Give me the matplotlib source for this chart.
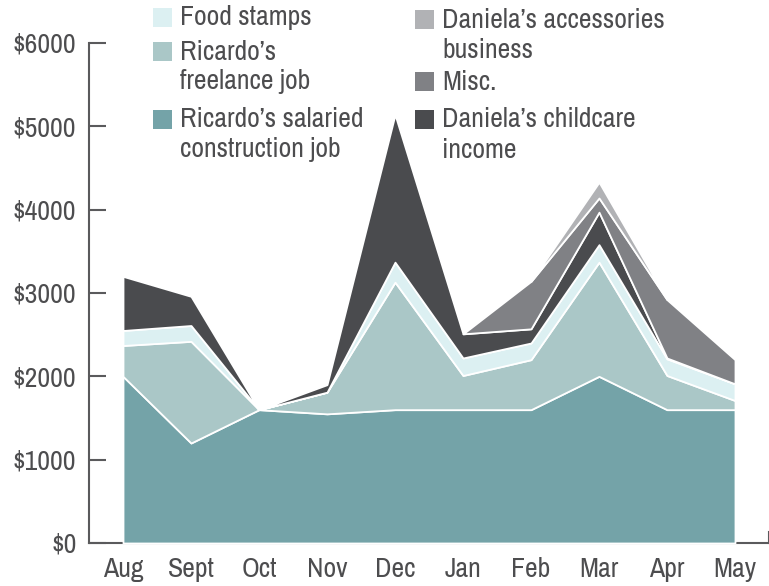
import numpy as np
import matplotlib.pyplot as plt
from matplotlib.patches import Rectangle

plt.rcParams['font.family'] = ['Archivo Narrow', 'DejaVu Sans']

months = ['Aug', 'Sept', 'Oct', 'Nov', 'Dec', 'Jan', 'Feb', 'Mar', 'Apr', 'May']
salaried = [2000, 1200, 1600, 1550, 1600, 1600, 1600, 2000, 1600, 1600]
freelance = [370, 1220, 0, 260, 1530, 410, 600, 1370, 410, 110]
food_stamps = [180, 190, 0, 0, 240, 210, 200, 210, 200, 200]
childcare = [650, 350, 0, 90, 1770, 290, 170, 390, 10, 0]
misc = [0, 0, 0, 0, 0, 0, 570, 170, 700, 290]
accessories = [0, 0, 0, 0, 0, 0, 0, 190, 0, 0]

yticks = [0, 1000, 2000, 3000, 4000, 5000, 6000]
ytick_labels = ['$0', '$1000', '$2000', '$3000', '$4000', '$5000', '$6000']

text_col = '#4d4d4f'
spine_col = '#5a5a5c'

x = np.arange(len(months))
series = [
    (salaried, '#74a3a8', x >= 0),
    (freelance, '#aac7c7', x >= 0),
    (food_stamps, '#dcf0f2', x >= 0),
    (childcare, '#4a4b4e', x >= 0),
    (misc, '#808185', x >= 5),
    (accessories, '#b1b2b5', (x >= 6) & (x <= 8)),
]

fig = plt.figure(figsize=(7.69, 5.86), dpi=100)
ax = fig.add_axes([89 / 769, 43 / 586, 680 / 769, 500 / 586])

# stacked areas, bottom layer first
base = np.zeros(len(months))
for vals, col, mask in series:
    top = base + np.array(vals)
    ax.fill_between(x, base, top, where=mask, facecolor=col,
                    edgecolor='white', linewidth=1.3)
    base = top

ax.set_xlim(-0.5, 9.5)
ax.set_ylim(0, 6000)
ax.set_xticks(x)
ax.set_xticklabels(months)
ax.set_yticks(yticks)
ax.set_yticklabels(ytick_labels)

ax.spines['top'].set_visible(False)
ax.spines['right'].set_bounds(0, 130)
for s in ['left', 'bottom', 'right']:
    ax.spines[s].set_color(spine_col)
    ax.spines[s].set_linewidth(1.5)
ax.spines['bottom'].set_zorder(0)

ax.tick_params(axis='y', direction='in', length=12, width=1.5, color=spine_col,
               labelsize=20, labelcolor=text_col, pad=9)
ax.tick_params(axis='x', length=0, labelsize=20, labelcolor=text_col, pad=10)

# legend drawn by hand, two columns
legend_left = [
    ('#dcf0f2', ['Food stamps'], 18),
    ('#aac7c7', ["Ricardo’s", 'freelance job'], 52),
    ('#74a3a8', ["Ricardo’s salaried", 'construction job'], 120),
]
legend_right = [
    ('#b1b2b5', ["Daniela’s accessories", 'business'], 20),
    ('#808185', ['Misc.'], 82),
    ('#4a4b4e', ["Daniela’s childcare", 'income'], 120),
]
W, H = 769, 586
for entries, sx in [(legend_left, 153), (legend_right, 415)]:
    for col, lines, yc in entries:
        fig.patches.append(Rectangle((sx / W, 1 - (yc + 9) / H), 19 / W, 19 / H,
                                     transform=fig.transFigure, facecolor=col,
                                     edgecolor='none'))
        for i, line in enumerate(lines):
            fig.text((sx + 27) / W, 1 - (yc + 30 * i) / H, line, fontsize=20,
                     color=text_col, va='center', ha='left')

fig.savefig('out.png', dpi=100)
